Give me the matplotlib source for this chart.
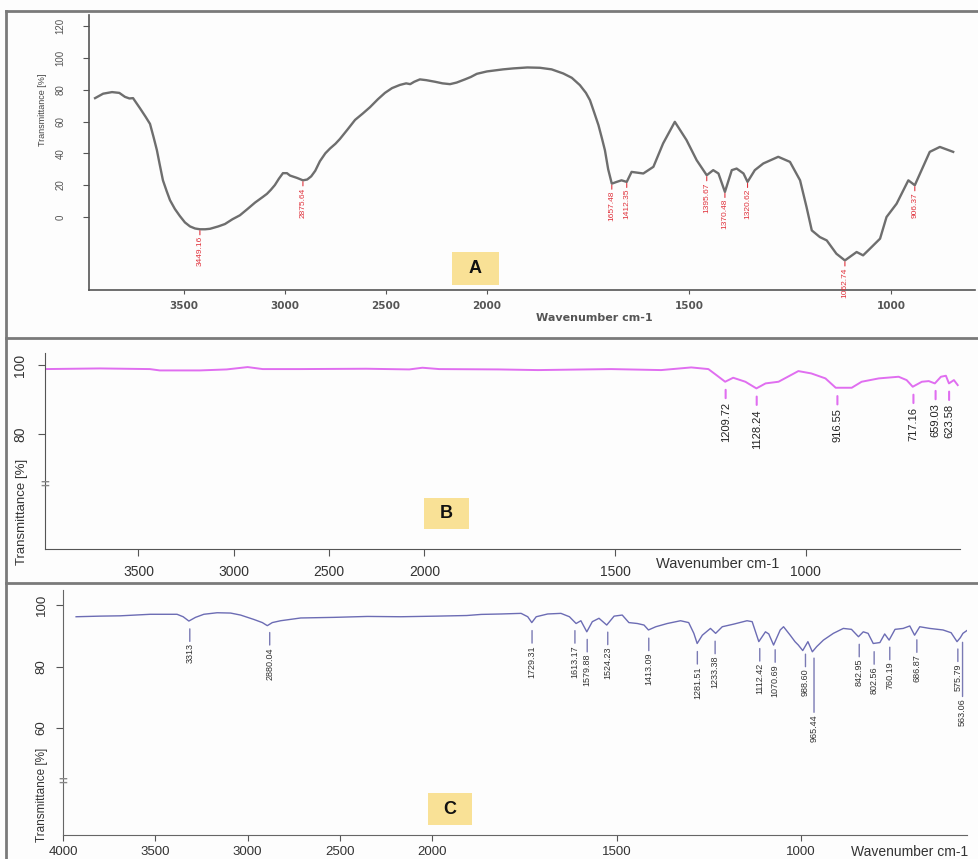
import numpy as np
import matplotlib.pyplot as plt
from matplotlib.patches import Rectangle
from matplotlib.lines import Line2D

plt.rcParams['font.family'] = ['Liberation Sans', 'DejaVu Sans']

W, H = 979, 859

# ---- spectrum A (gray) ----
a_wn = [3940, 3900, 3856, 3820, 3792, 3770, 3752, 3718, 3690, 3668, 3650, 3634, 3620, 3604,
        3585, 3569, 3545, 3520, 3495, 3470, 3445, 3421, 3395, 3371, 3330, 3297, 3260, 3223,
        3185, 3148, 3110, 3089, 3070, 3050, 3030, 3010, 2990, 2975, 2940, 2911, 2890, 2870,
        2850, 2827, 2800, 2777, 2750, 2728, 2690, 2653, 2615, 2579, 2540, 2505, 2470, 2431,
        2400, 2380, 2360, 2332, 2300, 2257, 2220, 2183, 2150, 2109, 2080, 2050, 2000, 1960,
        1935, 1900, 1869, 1840, 1811, 1790, 1770, 1755, 1745, 1735, 1724, 1715, 1708, 1700,
        1691, 1679, 1667, 1654, 1642, 1613, 1588, 1564, 1535, 1506, 1481, 1456, 1440, 1427,
        1411, 1394, 1382, 1365, 1355, 1337, 1316, 1279, 1250, 1225, 1209, 1196, 1176, 1159,
        1135, 1114, 1085, 1069, 1052, 1027, 1011, 986, 957, 941, 928, 904, 879, 846]
a_t = [74.7, 77.5, 78.5, 78, 75.5, 74.5, 74.7, 68.4, 63, 58.5, 50, 42, 33, 23,
       16, 10.5, 5, 0.5, -3.5, -6, -7.3, -7.8, -7.8, -7.5, -6, -4.5, -1.5, 1,
       5, 9, 12.5, 14.5, 17, 20, 24, 27.5, 27.5, 26, 24.5, 23, 23.5, 25.5,
       29, 35, 40, 43, 46, 49, 55, 61, 65, 69, 74, 78, 81, 83,
       84, 83.5, 85, 86.5, 86, 85, 84, 83.5, 84.5, 86.5, 88, 90, 91.5, 92.8,
       93.4, 94, 93.8, 92.8, 90.2, 87.5, 82.9, 78, 73.4, 66, 57.7, 49, 41.9, 30,
       20.9, 22, 23, 22, 28.3, 27.3, 31.5, 46.2, 59.8, 48.3, 35.7, 26.2, 29.4, 27.3,
       15.7, 29.4, 30.4, 27.3, 22, 29.4, 33.6, 37.8, 34.6, 23, 6.2, -8.5, -12.7, -14.8,
       -23.2, -27.4, -22.1, -24.2, -20, -13.7, -0.1, 8.3, 23, 19.9, 27.3, 40.9, 44, 40.9]
a_peak_wn = [3421, 2911, 1691, 1654, 1456, 1411, 1355, 1114, 941]
a_peak_txt = ["3449.16", "2875.64", "1657.48", "1412.35", "1395.67", "1370.48",
              "1320.62", "1062.74", "906.37"]

# ---- spectrum B (magenta) ----
b_wn = [3990, 3702, 3440, 3388, 3178, 3037, 2927, 2848, 2654, 2304, 2079, 2010, 1961, 1805,
        1702, 1510, 1379, 1300, 1255, 1234, 1211, 1190, 1158, 1129, 1105, 1071, 1019, 985,
        948, 921, 879, 853, 808, 756, 735, 719, 695, 677, 661, 645, 632, 624, 611, 601]
b_t = [98.84, 99.03, 98.84, 98.45, 98.45, 98.74, 99.42, 98.84, 98.84, 98.94, 98.74, 99.23,
       98.84, 98.74, 98.55, 98.84, 98.55, 99.32, 98.84, 97.10, 95.17, 96.33, 95.17, 93.24,
       94.69, 95.17, 98.26, 97.58, 96.14, 93.43, 93.43, 95.17, 96.14, 96.62, 95.65, 93.72,
       95.17, 95.36, 94.69, 96.62, 96.91, 94.69, 95.65, 94.2]
b_peak_txt = ["1209.72", "1128.24", "916.55", "717.16", "659.03", "623.58"]

# ---- spectrum C (blue) ----
c_wn = [3929, 3799, 3690, 3527, 3382, 3349, 3318, 3282, 3237, 3165, 3092, 3038, 2965, 2920,
        2893, 2866, 2821, 2712, 2531, 2350, 2169, 1987, 1906, 1867, 1813, 1759, 1741, 1730,
        1718, 1687, 1651, 1628, 1610, 1597, 1581, 1566, 1548, 1527, 1507, 1485, 1467, 1444,
        1426, 1414, 1394, 1363, 1327, 1305, 1291, 1282, 1268, 1246, 1232, 1214, 1183, 1147,
        1133, 1115, 1097, 1088, 1075, 1057, 1048, 1030, 1017, 1008, 996, 982, 970, 958,
        940, 913, 886, 864, 845, 832, 819, 805, 787, 774, 762, 746, 724, 706,
        693, 679, 652, 616, 594, 578, 569, 562, 549]
c_t = [96.2, 96.4, 96.5, 97.0, 97.0, 96.2, 94.8, 96.0, 97.0, 97.5, 97.4, 96.75, 95.3, 94.3,
       93.3, 94.3, 94.9, 95.8, 96.0, 96.3, 96.2, 96.4, 96.6, 96.96, 97.1, 97.3, 96.2, 94.3,
       96.2, 97.1, 97.3, 96.2, 94.0, 94.9, 91.3, 94.6, 95.7, 93.5, 96.4, 96.75, 94.3, 94.0,
       93.5, 91.9, 92.95, 94.0, 94.9, 94.3, 90.8, 87.5, 90.2, 92.4, 90.8, 92.95, 93.8, 94.9,
       94.6, 88.1, 91.3, 90.6, 87.0, 91.9, 92.95, 90.2, 88.1, 87.0, 85.2, 88.1, 84.8, 86.5,
       88.6, 90.8, 92.4, 92.1, 89.7, 91.3, 90.8, 87.5, 87.8, 90.6, 88.6, 92.1, 92.4, 93.2,
       90.2, 92.95, 92.4, 91.9, 91.0, 88.1, 89.4, 90.8, 91.9]
c_peak_txt = ["3313", "2880.04", "1729.31", "1613.17", "1579.88", "1524.23", "1413.09",
              "1281.51", "1233.38", "1112.42", "1070.69", "988.60", "965.44", "842.95",
              "802.56", "760.19", "686.87", "575.79", "563.06"]
c_long = ["965.44", "563.06"]

ticks_a = [3500, 3000, 2500, 2000, 1500, 1000]
ticks_c = [4000, 3500, 3000, 2500, 2000, 1500, 1000]


# wavenumber axis compressed 2:1 above 2000 cm-1
def fwd(w):
    w = np.asarray(w, dtype=float)
    return np.where(w > 2000, 2000 + (w - 2000) / 2, w)


def inv(u):
    u = np.asarray(u, dtype=float)
    return np.where(u > 2000, 2000 + (u - 2000) * 2, u)


def ax_rect(x0, y0, x1, y1):
    return [x0 / W, 1 - y1 / H, (x1 - x0) / W, (y1 - y0) / H]


def mark_peaks(ax, wn, t, pos, txt, tcolor, lcolor, size, gap, dash, off, lw=1.0,
               longs=(), extra=0):
    wr = np.asarray(wn)[::-1]
    tr = np.asarray(t)[::-1]
    for p, s in zip(pos, txt):
        y = np.interp(p, wr, tr)
        add = extra if s in longs else 0
        ax.annotate('', xy=(p, y), xytext=(0, -(dash + add)), textcoords='offset points',
                    arrowprops=dict(arrowstyle='-', color=lcolor, lw=lw, shrinkA=0, shrinkB=gap))
        ax.annotate(s, xy=(p, y), xytext=(0, -(off + add)), textcoords='offset points',
                    rotation=90, ha='center', va='top', fontsize=size, color=tcolor)


fig = plt.figure(figsize=(W / 100, H / 100), dpi=100, facecolor='#fdfdfd')

ax_a = fig.add_axes(ax_rect(89, 15, 975, 290))
ax_b = fig.add_axes(ax_rect(45, 353, 960, 549))
ax_c = fig.add_axes(ax_rect(63, 590, 967, 835))

for ax in (ax_a, ax_b, ax_c):
    ax.set_xscale('function', functions=(fwd, inv))
    ax.spines[['top', 'right']].set_visible(False)
    ax.patch.set_alpha(0)

# panel A
ax_a.plot(a_wn, a_t, color='#6e6e6e', lw=1.7)
ax_a.set_xlim(3970, 792)
ax_a.set_ylim(-46, 127)
ax_a.set_xticks(ticks_a, labels=[str(v) for v in ticks_a])
ax_a.set_yticks(range(0, 121, 20), labels=[str(v) for v in range(0, 121, 20)])
ax_a.tick_params(axis='x', length=3, pad=5, labelsize=7.5, labelcolor='#555', color='#555')
ax_a.tick_params(axis='y', length=4, pad=13, labelsize=7, labelcolor='#555', color='#555',
                 labelrotation=90)
for lab in ax_a.get_xticklabels():
    lab.set_family('DejaVu Sans')
    lab.set_fontweight('bold')
for lab in ax_a.get_yticklabels():
    lab.set_va('center')
for s in ('left', 'bottom'):
    ax_a.spines[s].set_color('#555')
    ax_a.spines[s].set_linewidth(1.2)
ax_a.text(0.57, -0.102, 'Wavenumber cm-1', transform=ax_a.transAxes, ha='center',
          va='center', fontsize=8, fontweight='bold', color='#555', family='DejaVu Sans')
ax_a.text(-0.053, 0.6545, 'Transmittance [%]', transform=ax_a.transAxes, ha='center',
          va='center', rotation=90, fontsize=6.5, color='#444')
mark_peaks(ax_a, a_wn, a_t, a_peak_wn, a_peak_txt, '#e0323c', '#e0323c', 6,
           gap=1, dash=4, off=5, lw=0.8)

# panel B
ax_b.plot(b_wn, b_t, color='#e06ef0', lw=1.4)
ax_b.set_xlim(3990, 595)
ax_b.set_ylim(46.7, 103.5)
ax_b.set_xticks(ticks_a, labels=[str(v) for v in ticks_a])
ax_b.set_yticks([80, 100], labels=['80', '100'])
ax_b.tick_params(axis='x', length=5, pad=6.5, labelsize=10, labelcolor='#333', color='#555')
ax_b.tick_params(axis='y', length=5, pad=8, labelsize=10, labelcolor='#333', color='#555',
                 labelrotation=90)
for lab in ax_b.get_yticklabels():
    lab.set_va('center')
for s in ('left', 'bottom'):
    ax_b.spines[s].set_color('#555')
ax_b.text(0.7355, -0.0765, 'Wavenumber cm-1', transform=ax_b.transAxes, ha='center',
          va='center', fontsize=10.5, color='#333')
ax_b.text(-0.025, 0.189, 'Transmittance [%]', transform=ax_b.transAxes, ha='center',
          va='center', rotation=90, fontsize=9.5, color='#333')
ax_b.text(0, 65.2, '=', transform=ax_b.get_yaxis_transform(), ha='center', va='center',
          fontsize=11, fontweight='bold', color='#888', clip_on=False)
mark_peaks(ax_b, b_wn, b_t, [float(s) for s in b_peak_txt], b_peak_txt, '#222', '#e06ef0', 8,
           gap=6, dash=12, off=15, lw=1.5)

# panel C
ax_c.plot(c_wn, c_t, color='#6c6cb4', lw=1.0)
ax_c.set_xlim(4000, 551)
ax_c.set_ylim(25.2, 104.9)
ax_c.set_xticks(ticks_c, labels=[str(v) for v in ticks_c])
ax_c.set_yticks([60, 80, 100], labels=['60', '80', '100'])
ax_c.tick_params(axis='x', length=4, pad=4, labelsize=9.5, labelcolor='#333', color='#555')
ax_c.tick_params(axis='y', length=5, pad=6, labelsize=9.5, labelcolor='#333', color='#555',
                 labelrotation=90)
for lab in ax_c.get_yticklabels():
    lab.set_va('center')
for s in ('left', 'bottom'):
    ax_c.spines[s].set_color('#666')
ax_c.text(0.937, -0.07, 'Wavenumber cm-1', transform=ax_c.transAxes, ha='center',
          va='center', fontsize=10, color='#333')
ax_c.text(-0.0232, 0.165, 'Transmittance [%]', transform=ax_c.transAxes, ha='center',
          va='center', rotation=90, fontsize=8.5, color='#333')
ax_c.text(0, 42.4, '=', transform=ax_c.get_yaxis_transform(), ha='center', va='center',
          fontsize=11, fontweight='bold', color='#888', clip_on=False)
mark_peaks(ax_c, c_wn, c_t, [float(s) for s in c_peak_txt], c_peak_txt, '#333', '#7a7ab4', 6.5,
           gap=6, dash=15, off=16.5, lw=1.0, longs=c_long, extra=30)

# panel frames
for y in (11, 338, 583):
    fig.add_artist(Line2D([6 / W, 1], [1 - y / H, 1 - y / H], transform=fig.transFigure,
                          color='#7a7a7a', lw=2))
fig.add_artist(Line2D([6 / W, 6 / W], [1 - 11 / H, 0], transform=fig.transFigure,
                      color='#7a7a7a', lw=2))

# panel letters
for letter, (x0, y0, x1, y1) in zip('ABC', [(452, 252, 499, 285), (424, 498, 469, 529),
                                            (428, 793, 472, 825)]):
    fig.add_artist(Rectangle((x0 / W, 1 - y1 / H), (x1 - x0) / W, (y1 - y0) / H,
                             transform=fig.transFigure, facecolor='#f9e196', edgecolor='none'))
    fig.text((x0 + x1) / 2 / W, 1 - (y0 + y1) / 2 / H, letter, ha='center', va='center',
             fontsize=13, fontweight='bold', color='#111', family='Liberation Sans')

fig.savefig('out.png', dpi=100, facecolor=fig.get_facecolor())
